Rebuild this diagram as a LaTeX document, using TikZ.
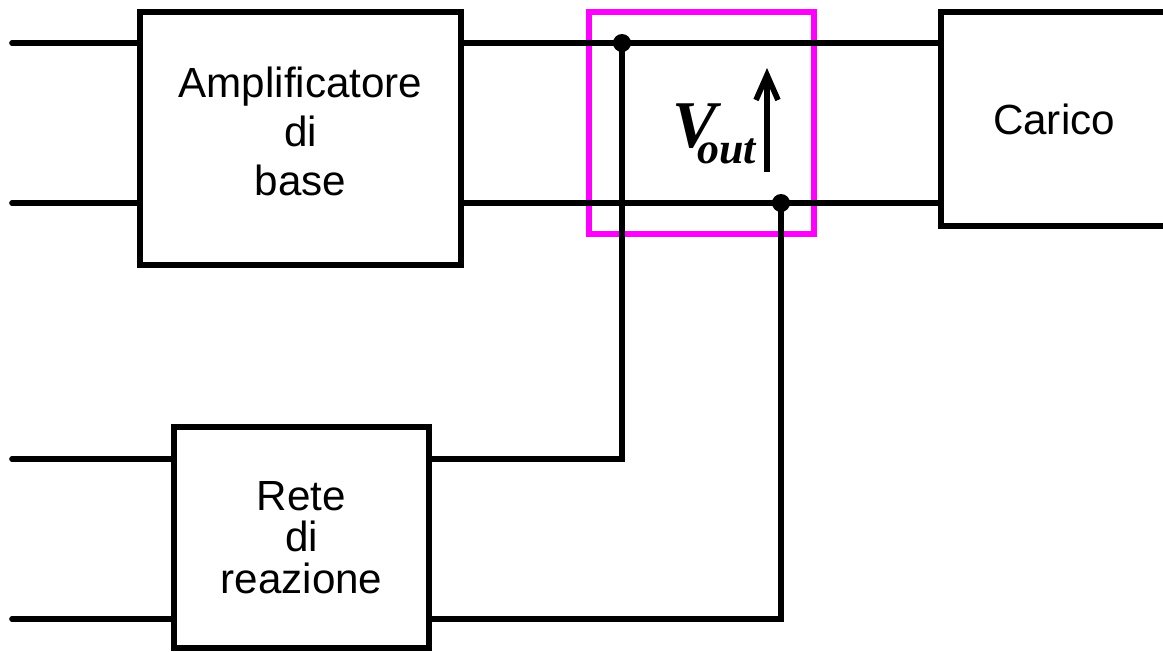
\documentclass[tikz,border=0pt]{standalone}
\usepackage{fontspec}
\setmainfont{Liberation Sans}
\newfontfamily\serifbi{Liberation Serif}
\usetikzlibrary{arrows.meta, positioning, calc}
\definecolor{probe}{HTML}{FF00FF}
\tikzset{
  block/.style={
    draw=black, fill=white, line width=1.7pt, align=center,
    inner sep=0pt, font=\fontsize{12}{13.9}\selectfont
  },
  wire/.style={line width=1.6pt, line cap=round},
  joint/.style={circle, fill=black, inner sep=0pt, minimum size=1.8mm},
  probebox/.style={draw=probe, line width=1.6pt, inner sep=0pt},
  volt/.style={-{Straight Barb[length=2.5mm,width=2.2mm]}, line width=1.6pt},
  vlab/.style={anchor=base west, inner sep=0pt,
    font=\serifbi\bfseries\itshape\fontsize{19}{19}\selectfont}
}

\begin{document}
\begin{tikzpicture}
  \useasboundingbox (0,0) rectangle (11.63,6.51);
  \node[probebox, minimum width=2.25cm, minimum height=2.22cm] (sense) at (7.015,5.28) {};
  \node[block, minimum width=3.21cm, minimum height=2.53cm, text depth=0.14cm] (amp) at (3.005,5.125) {Amplificatore\\di\\base};
  \node[block, minimum width=2.26cm, minimum height=2.14cm] (load) at (10.54,5.32) {Carico};
  \node[block, minimum width=2.55cm, minimum height=2.21cm, font=\fontsize{12}{11.8}\selectfont] (fb) at (3.015,1.135) {Rete\\di\\reazione};
  \coordinate (in1) at (0.12,6.08);
  \coordinate (in2) at (0.12,4.48);
  \coordinate (in3) at (0.12,1.92);
  \coordinate (in4) at (0.12,0.32);
  \node[joint] (j1) at (6.22,6.08) {};
  \node[joint] (j2) at (7.81,4.48) {};
  \draw[wire] (in1) -- (in1 -| amp.west);
  \draw[wire] (in2) -- (in2 -| amp.west);
  \draw[wire] (amp.east |- in1) -- (load.west |- in1);
  \draw[wire] (amp.east |- in2) -- (load.west |- in2);
  \draw[wire] (in3) -- (in3 -| fb.west);
  \draw[wire] (in4) -- (in4 -| fb.west);
  \draw[wire] (j1.center) |- (fb.east |- in3);
  \draw[wire] (j2.center) |- (fb.east |- in4);
  \coordinate (vlo) at (7.67,4.79);
  \coordinate (vhi) at (7.67,5.83);
  \draw[volt] (vlo) -- (vhi);
  \node[vlab] (vout) at (6.72,5.04) {V\kern-2mm\raisebox{-1.6mm}{\fontsize{12.5}{12.5}\selectfont out}};
\end{tikzpicture}
\end{document}
